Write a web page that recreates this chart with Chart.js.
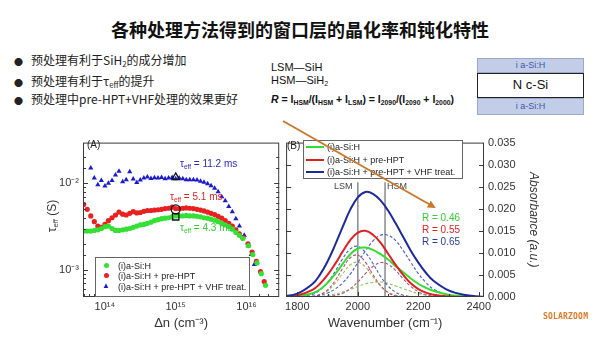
<!DOCTYPE html>
<html>
<head>
<meta charset="utf-8">
<script src="https://cdn.jsdelivr.net/npm/chart.js@4.4.1/dist/chart.umd.min.js"></script>
<style>
  body { margin: 0; width: 600px; height: 337px; background: #fff; position: relative; overflow: hidden;
         font-family: Arial, "Liberation Sans", "Noto Sans CJK SC", sans-serif; color: #222; }
  .abs { position: absolute; white-space: nowrap; }
  sub { font-size: 0.65em; vertical-align: -0.3em; line-height: 0; }
  sup { font-size: 0.65em; vertical-align: 0.45em; line-height: 0; }
  .title { left: 0; width: 600px; top: 18px; text-align: center; font: bold 18px/22px "Noto Sans CJK SC", sans-serif; color: #111; }
  .bul { left: 14px; font: 12px/16px "Noto Sans CJK SC", Arial, sans-serif; color: #222; }
  .bul .dot { display: inline-block; width: 17px; font-size: 9px; }
  .mid { left: 271px; font: 11px/14px Arial, "Liberation Sans", sans-serif; color: #111; }
  .legend { border: 1px solid #666; background: #fff; font: 9px/10px Arial, "Liberation Sans", sans-serif; color: #222; }
  .legend div { position: absolute; white-space: nowrap; }
  .ann { font: 10px/12px Arial, "Liberation Sans", sans-serif; }
  canvas { position: absolute; }
</style>
</head>
<body>

<div class="abs title">各种处理方法得到的窗口层的晶化率和钝化特性</div>
<div class="abs bul" style="top:52px"><span class="dot">●</span>预处理有利于SiH<sub>2</sub>的成分增加</div>
<div class="abs bul" style="top:73px"><span class="dot">●</span>预处理有利于τ<sub>eff</sub>的提升</div>
<div class="abs bul" style="top:91px"><span class="dot">●</span>预处理中pre-HPT+VHF处理的效果更好</div>

<div class="abs mid" style="top:60px">LSM—SiH</div>
<div class="abs mid" style="top:73px">HSM—SiH<sub>2</sub></div>
<div class="abs mid" style="top:92px;font-size:10.5px;font-weight:bold"><i>R</i> = I<sub>HSM</sub>/(I<sub>HSM</sub> + I<sub>LSM</sub>) = I<sub>2090</sub>/(I<sub>2090</sub> + I<sub>2000</sub>)</div>

<div class="abs" style="left:477px;top:58px;width:107px;height:15px;background:#c3cde8;border:1px solid #9aa8cc;box-sizing:border-box;text-align:center;font:9px/13px Arial,sans-serif;color:#3a5aa8">i a-Si:H</div>
<div class="abs" style="left:477px;top:73px;width:107px;height:25px;background:#fff;border:1.5px solid #222;box-sizing:border-box;text-align:center;font:13px/22px Arial,sans-serif;color:#111">N c-Si</div>
<div class="abs" style="left:477px;top:98px;width:107px;height:17px;background:#c3cde8;border:1px solid #9aa8cc;box-sizing:border-box;text-align:center;font:9px/15px Arial,sans-serif;color:#3a5aa8">i a-Si:H</div>

<canvas id="chartA" width="255" height="205" style="left:30px;top:132px"></canvas>
<canvas id="chartB" width="262" height="205" style="left:282px;top:132px"></canvas>

<div class="abs" style="left:87px;top:139px;font:10px/12px Arial,sans-serif;color:#222">(A)</div>
<div class="abs" style="left:287px;top:140px;font:10px/12px Arial,sans-serif;color:#222">(B)</div>
<div class="abs" style="left:22px;top:208px;width:60px;text-align:center;transform:rotate(-90deg);font:12px/16px Arial,sans-serif;color:#333">τ<sub>eff</sub> (S)</div>

<div class="abs ann" style="left:180px;top:158px;color:#2a2ac0">τ<sub>eff</sub> = 11.2 ms</div>
<div class="abs ann" style="left:170px;top:191px;color:#e02525">τ<sub>eff</sub> = 5.1 ms</div>
<div class="abs ann" style="left:180px;top:222px;color:#30d030">τ<sub>eff</sub> = 4.3 ms</div>

<div class="abs legend" style="left:95px;top:257px;width:153px;height:38px">
  <div style="left:8px;top:5px;width:5px;height:5px;border-radius:50%;background:#33e033"></div>
  <div style="left:22px;top:3px">(i)a-Si:H</div>
  <div style="left:8px;top:15px;width:5px;height:5px;border-radius:50%;background:#e82020"></div>
  <div style="left:22px;top:13px">(i)a-Si:H + pre-HPT</div>
  <div style="left:6px;top:23px;font-size:8px;color:#1a1ad0">▲</div>
  <div style="left:22px;top:24px">(i)a-Si:H + pre-HPT + VHF treat.</div>
</div>

<div class="abs legend" style="left:303px;top:140px;width:158px;height:37px">
  <div style="left:2px;top:5px;width:18px;height:2px;background:#33dd33"></div>
  <div style="left:23px;top:1px">(i)a-Si:H</div>
  <div style="left:2px;top:18px;width:18px;height:2px;background:#e02020"></div>
  <div style="left:23px;top:14px">(i)a-Si:H + pre-HPT</div>
  <div style="left:2px;top:30px;width:18px;height:2px;background:#1c2a9c"></div>
  <div style="left:23px;top:26px">(i)a-Si:H + pre-HPT + VHF treat.</div>
</div>

<div class="abs" style="left:334px;top:181px;font:9px/11px Arial,sans-serif;color:#444">LSM</div>
<div class="abs" style="left:387px;top:181px;font:9px/11px Arial,sans-serif;color:#444">HSM</div>

<div class="abs" style="left:422px;top:212px;font:10px/12px Arial,sans-serif;color:#30d030">R = 0.46</div>
<div class="abs" style="left:422px;top:224px;font:10px/12px Arial,sans-serif;color:#e02020">R = 0.55</div>
<div class="abs" style="left:422px;top:236px;font:10px/12px Arial,sans-serif;color:#2a3aa8">R = 0.65</div>

<svg class="abs" style="left:0;top:0" width="600" height="337">
  <defs>
    <marker id="head" markerWidth="8" markerHeight="8" refX="6" refY="4" orient="auto" markerUnits="userSpaceOnUse">
      <path d="M0,0 L8,4 L0,8 z" fill="#c8782a"/>
    </marker>
  </defs>
  <line x1="283" y1="121" x2="434" y2="207" stroke="#c8782a" stroke-width="2" marker-end="url(#head)"/>
</svg>

<div class="abs" style="left:543px;top:312px;font:bold 8px/10px 'DejaVu Sans Mono',monospace;color:#e87722;letter-spacing:0.2px">SOLARZOOM</div>

<script>
// panel A: effective lifetime vs injection level (tau in ms)
const dnGrid = [5.01e13, 5.62e13, 6.31e13, 7.08e13, 7.94e13, 8.91e13, 1.00e14, 1.12e14, 1.26e14, 1.41e14,
  1.58e14, 1.78e14, 2.00e14, 2.24e14, 2.51e14, 2.82e14, 3.16e14, 3.55e14, 3.98e14, 4.47e14,
  5.01e14, 5.62e14, 6.31e14, 7.08e14, 7.94e14, 8.91e14, 1.00e15, 1.12e15, 1.26e15, 1.41e15,
  1.58e15, 1.78e15, 2.00e15, 2.24e15, 2.51e15, 2.82e15, 3.16e15, 3.55e15, 3.98e15, 4.47e15,
  5.01e15, 5.62e15, 6.31e15, 7.08e15, 7.94e15];

const greenTau = [2.8, 2.8, 2.8, 2.85, 2.9, 3.0, 3.15, 3.2, 3.0, 2.85,
  2.85, 2.9, 2.95, 3.0, 3.1, 3.2, 3.3, 3.35, 3.45, 3.55,
  3.7, 3.8, 3.9, 3.95, 4.0, 4.1, 4.2, 4.2, 4.2, 4.25,
  4.2, 4.2, 4.15, 4.1, 4.0, 3.95, 3.85, 3.75, 3.6, 3.45,
  3.3, 3.15, 2.95, 2.7, 2.5];
const greenTailDn = [8.9e15, 1.07e16, 1.23e16, 1.41e16, 1.62e16, 1.86e16];
const greenTailTau = [2.3, 1.9, 1.5, 1.2, 0.9, 0.66];

const redTau = [5.7, 5.0, 4.2, 3.6, 3.2, 3.1, 3.35, 3.7, 4.0, 4.3,
  4.65, 4.4, 4.3, 4.5, 4.7, 4.55, 4.6, 4.75, 4.85, 4.85,
  4.9, 4.95, 5.0, 5.1, 5.15, 5.3, 5.1, 5.1, 5.15, 5.2,
  5.15, 5.1, 5.0, 4.9, 4.8, 4.65, 4.5, 4.35, 4.15, 3.95,
  3.7, 3.45, 3.2, 2.9, 2.6];
const redTailDn = [8.9e15, 1.05e16, 1.2e16, 1.38e16, 1.58e16, 1.78e16];
const redTailTau = [2.35, 2.0, 1.6, 1.25, 0.95, 0.73];

const blueTau = [null, null, 15.0, 11.5, 9.6, 10.8, 9.3, 10.0, 10.8, 12.5,
  13.8, 10.4, 11.0, 13.6, 11.2, 10.2, 10.9, 11.5, 11.8, 11.4,
  11.6, 11.5, 11.7, 11.3, 11.5, 11.7, 11.3, 11.5, 11.3, 11.0,
  11.0, 11.0, 10.9, 10.6, 10.3, 9.9, 9.4, 8.8, 8.0, 7.0,
  6.3, 5.4, 4.7, 3.9, 3.2];
const blueTailDn = [9.3e15, 1.05e16, 1.17e16, 1.29e16];
const blueTailTau = [2.5, 1.9, 1.5, 1.15];

// marked values at 1e15
const markDn = [1e15, 1e15, 1e15];
const markTau = [11.7, 5.0, 4.1];

const dnTickLabels = { 14: '10¹⁴', 15: '10¹⁵', 16: '10¹⁶' };
const tauTickLabels = { '-2': '10⁻²', '-3': '10⁻³' };

// panel B: FTIR absorbance and fitted components
const wavenumber = [1750, 1800, 1850, 1875, 1900, 1925, 1950, 1975, 2000, 2025, 2050, 2075,
  2100, 2125, 2150, 2175, 2200, 2225, 2250, 2300, 2350, 2400, 2450];

const greenAbs = [0, 0.00014, 0.00084, 0.0017, 0.0032, 0.0052, 0.0075, 0.0097, 0.0110, 0.0112, 0.0107, 0.0097,
  0.0085, 0.0070, 0.0056, 0.0042, 0.0030, 0.0021, 0.0014, 0.0005, 0.00016, 0, 0];
const redAbs = [0.00005, 0.00035, 0.0016, 0.0030, 0.0050, 0.0075, 0.0103, 0.0129, 0.0146, 0.0150, 0.0141, 0.0123,
  0.0098, 0.0073, 0.0050, 0.0031, 0.0018, 0.0010, 0.0005, 0.0001, 0, 0, 0];
const blueAbs = [0.00014, 0.00077, 0.00293, 0.00507, 0.00806, 0.0118, 0.0159, 0.0198, 0.0226, 0.0238, 0.0234, 0.0219,
  0.0196, 0.0167, 0.0136, 0.0105, 0.0078, 0.0055, 0.0037, 0.0015, 0.0005, 0.00013, 0];

const greenLsm = [0, 0, 0.00015, 0.0005, 0.0014, 0.0031, 0.0053, 0.0073, 0.0079, 0.0068, 0.0046, 0.0025,
  0.0011, 0.0004, 0.0001, 0, 0, 0, 0, 0, 0, 0, 0];
const greenHsm = [0, 0, 0.00008, 0.00018, 0.00036, 0.0007, 0.0011, 0.0017, 0.0024, 0.0030, 0.0033, 0.0034,
  0.0031, 0.0025, 0.0019, 0.0013, 0.0008, 0.0004, 0.0002, 0, 0, 0, 0];
const redLsm = [0, 0, 0.00015, 0.00057, 0.0016, 0.0037, 0.0065, 0.0089, 0.0095, 0.0079, 0.0051, 0.0026,
  0.0010, 0.0003, 0.0001, 0, 0, 0, 0, 0, 0, 0, 0];
const redHsm = [0, 0, 0, 0.00003, 0.00012, 0.00034, 0.00087, 0.0019, 0.0034, 0.0053, 0.0069, 0.0078,
  0.0074, 0.0060, 0.0041, 0.0024, 0.0012, 0.0005, 0.0002, 0, 0, 0, 0];
const blueLsm = [0, 0.00006, 0.0006, 0.0016, 0.0033, 0.0058, 0.0087, 0.0109, 0.0115, 0.0101, 0.0076, 0.0047,
  0.0025, 0.0011, 0.0004, 0.0001, 0, 0, 0, 0, 0, 0, 0];
const blueHsm = [0, 0, 0.00017, 0.00041, 0.0009, 0.0018, 0.0032, 0.0052, 0.0078, 0.0104, 0.0127, 0.0140,
  0.0140, 0.0128, 0.0105, 0.0079, 0.0053, 0.0033, 0.0018, 0.0004, 0.0001, 0, 0];

const bandPositions = [2000, 2090]; // LSM, HSM
const bandLineTop = 0.026;

Chart.defaults.font.family = 'Arial, "Liberation Sans", sans-serif';
Chart.defaults.color = '#333';

// frame with inward ticks, like the origin-style plots
const boxFrame = {
  id: 'boxFrame',
  afterDatasetsDraw(chart) {
    const { ctx, chartArea: a } = chart;
    ctx.save();
    ctx.strokeStyle = '#3a3a3a';
    ctx.lineWidth = 1;
    ctx.strokeRect(a.left + 0.5, a.top + 0.5, a.right - a.left - 1, a.bottom - a.top - 1);
    Object.values(chart.scales).forEach(s => {
      s.ticks.forEach(t => {
        const len = t.label ? 5 : 3;
        const p = Math.round(s.getPixelForValue(t.value)) + 0.5;
        ctx.beginPath();
        if (s.isHorizontal()) {
          if (p < a.left + 1 || p > a.right - 1) return;
          ctx.moveTo(p, a.bottom);
          ctx.lineTo(p, a.bottom - len);
        } else {
          if (p < a.top + 1 || p > a.bottom - 1) return;
          ctx.moveTo(a.left, p);
          ctx.lineTo(a.left + len, p);
          ctx.moveTo(a.right, p);
          ctx.lineTo(a.right - len, p);
        }
        ctx.stroke();
      });
    });
    ctx.restore();
  }
};

function toPoints(xs, ys) {
  return xs.map((x, i) => ({ x: x, y: ys[i] == null ? null : ys[i] / 1000 }))
           .filter(p => p.y !== null);
}

function powLabel(map) {
  return v => {
    const e = Math.log10(v);
    const r = Math.round(e);
    return Math.abs(e - r) < 1e-6 && map[r] ? map[r] : '';
  };
}

new Chart(document.getElementById('chartA'), {
  type: 'scatter',
  data: {
    datasets: [
      {
        data: toPoints(markDn, markTau),
        pointStyle: ['triangle', 'circle', 'rect'],
        pointRadius: 4.5,
        borderColor: '#111',
        borderWidth: 1.3,
        backgroundColor: 'rgba(0,0,0,0)'
      },
      {
        label: '(i)a-Si:H',
        data: toPoints(dnGrid.concat(greenTailDn), greenTau.concat(greenTailTau)),
        pointStyle: 'circle', pointRadius: 2.6, borderWidth: 0, backgroundColor: '#33e033'
      },
      {
        label: '(i)a-Si:H + pre-HPT',
        data: toPoints(dnGrid.concat(redTailDn), redTau.concat(redTailTau)),
        pointStyle: 'circle', pointRadius: 2.6, borderWidth: 0, backgroundColor: '#e82020'
      },
      {
        label: '(i)a-Si:H + pre-HPT + VHF treat.',
        data: toPoints(dnGrid.concat(blueTailDn), blueTau.concat(blueTailTau)),
        pointStyle: 'triangle', pointRadius: 3, borderWidth: 0, backgroundColor: '#1a1ad0'
      }
    ]
  },
  options: {
    responsive: false,
    animation: false,
    layout: { padding: { top: 6, right: 3 } },
    plugins: { legend: { display: false }, tooltip: { enabled: false } },
    scales: {
      x: {
        type: 'logarithmic', min: 4.9e13, max: 2.9e16,
        grid: { display: false, drawTicks: false }, border: { display: false },
        ticks: { autoSkip: false, maxRotation: 0, padding: 3, font: { size: 11 }, callback: powLabel(dnTickLabels) },
        title: { display: true, text: 'Δn (cm⁻³)', font: { size: 13 }, padding: { top: 0, bottom: 6 } },
        afterFit: s => { s.height = 40; }
      },
      y: {
        type: 'logarithmic', min: 4.84e-4, max: 0.0296,
        grid: { display: false, drawTicks: false }, border: { display: false },
        ticks: { autoSkip: false, padding: 4, font: { size: 11 }, callback: powLabel(tauTickLabels) },
        afterFit: s => { s.width = 53; }
      }
    }
  },
  plugins: [boxFrame]
});

function curve(ys, color, width, dash) {
  return {
    data: wavenumber.map((x, i) => ({ x: x, y: ys[i] })),
    borderColor: color, borderWidth: width, borderDash: dash || [],
    pointRadius: 0, tension: 0.4, fill: false
  };
}

function bandLine(pos) {
  return {
    data: [{ x: pos, y: 0 }, { x: pos, y: bandLineTop }],
    borderColor: '#8a8a8a', borderWidth: 1.5, pointRadius: 0, fill: false
  };
}

new Chart(document.getElementById('chartB'), {
  type: 'line',
  data: {
    datasets: [
      curve(blueAbs, '#1c2a9c', 2),
      curve(redAbs, '#e02020', 2),
      curve(greenAbs, '#33dd33', 2),
      curve(blueHsm, '#4a58c8', 1.1, [3, 2]),
      curve(blueLsm, '#4a58c8', 1.1, [3, 2]),
      curve(redHsm, '#b0507a', 1.1, [3, 2]),
      curve(redLsm, '#c04a6a', 1.1, [3, 2]),
      curve(greenHsm, '#86c860', 1.1, [3, 2]),
      curve(greenLsm, '#a0b858', 1.1, [3, 2]),
      bandLine(bandPositions[0]),
      bandLine(bandPositions[1])
    ]
  },
  options: {
    responsive: false,
    animation: false,
    layout: { padding: { top: 6, left: 1 } },
    plugins: { legend: { display: false }, tooltip: { enabled: false } },
    scales: {
      x: {
        type: 'linear', min: 1763, max: 2417,
        grid: { display: false, drawTicks: false }, border: { display: false },
        ticks: { stepSize: 100, includeBounds: false, autoSkip: false, maxRotation: 0, padding: 3, font: { size: 11 },
                 callback: v => (v % 200 === 0 ? String(v) : '') },
        title: { display: true, text: 'Wavenumber (cm⁻¹)', font: { size: 13 }, padding: { top: 0, bottom: 6 } },
        afterFit: s => { s.height = 40; }
      },
      y: {
        position: 'right', min: 0, max: 0.035,
        grid: { display: false, drawTicks: false }, border: { display: false },
        ticks: { stepSize: 0.005, padding: 4, font: { size: 11 }, callback: v => v.toFixed(3) },
        title: { display: true, text: 'Absorbance (a.u.)', font: { size: 12, style: 'italic' }, padding: { top: 3, bottom: 0 } },
        afterFit: s => { s.width = 60; }
      }
    }
  },
  plugins: [boxFrame]
});
</script>
</body>
</html>
